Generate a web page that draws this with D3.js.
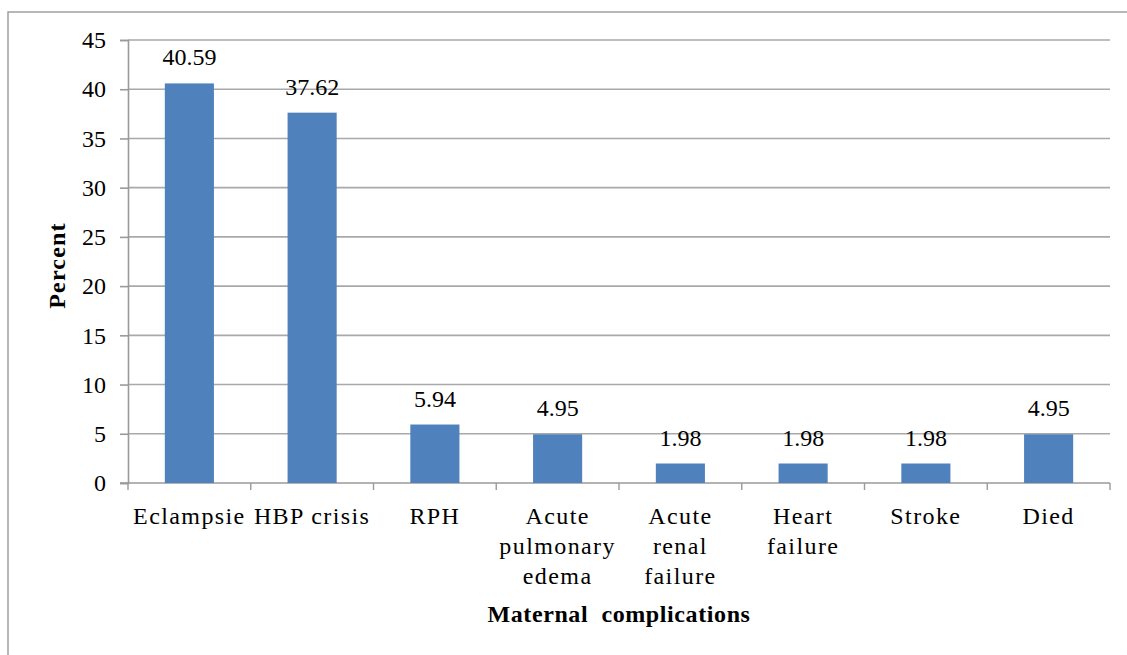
<!DOCTYPE html>
<html>
<head>
<meta charset="utf-8">
<script src="https://cdn.jsdelivr.net/npm/d3@7"></script>
<style>
  html, body { margin: 0; padding: 0; background: #fff; }
  svg { display: block; }
  text { font-family: "Liberation Serif", "Times New Roman", serif; fill: #000; }
</style>
</head>
<body>
<svg id="chart" width="1127" height="655"></svg>
<script>
// Maternal complications, percent of cases
const categories = ["Eclampsie", "HBP crisis", "RPH", "Acute\npulmonary\nedema", "Acute\nrenal\nfailure", "Heart\nfailure", "Stroke", "Died"];
const percents = [40.59, 37.62, 5.94, 4.95, 1.98, 1.98, 1.98, 4.95];
const labels = ["40.59", "37.62", "5.94", "4.95", "1.98", "1.98", "1.98", "4.95"];
const yTicks = [0, 5, 10, 15, 20, 25, 30, 35, 40, 45];

const svg = d3.select("#chart");
const W = 1127, H = 655;
const plot = { left: 128, right: 1110, top: 40, bottom: 483 };
const FS = 24;
const axisGrey = "#9a9a9a";

// outer frame (right and bottom edges run past the canvas)
svg.append("rect")
  .attr("x", 8).attr("y", 12)
  .attr("width", W + 20).attr("height", H + 20)
  .attr("fill", "none").attr("stroke", "#a0a0a0").attr("stroke-width", 1.5);

const xb = d3.scaleBand().domain(categories).range([plot.left, plot.right]);
const x = d3.scaleBand().domain(categories).range([plot.left, plot.right]).paddingInner(0.6).paddingOuter(0.3);
const y = d3.scaleLinear().domain([0, 45]).range([plot.bottom, plot.top]);

// horizontal gridlines
svg.append("g").selectAll("line").data(yTicks.filter(d => d > 0)).join("line")
  .attr("x1", plot.left).attr("x2", plot.right)
  .attr("y1", d => y(d)).attr("y2", d => y(d))
  .attr("stroke", "#a9a9a9").attr("stroke-width", 1.6);

// y axis
const yAxis = svg.append("g").attr("transform", `translate(${plot.left},0)`)
  .call(d3.axisLeft(y).tickValues(yTicks).tickSize(8).tickPadding(14).tickFormat(d3.format("d")));
yAxis.attr("font-family", null);
yAxis.select(".domain").attr("stroke", axisGrey).attr("stroke-width", 1.6);
yAxis.selectAll(".tick line").attr("stroke", axisGrey).attr("stroke-width", 1.6);
yAxis.selectAll(".tick text").attr("font-size", FS).attr("fill", "#000");

// x axis with ticks at category boundaries
const xAxisG = svg.append("g").attr("transform", `translate(0,${plot.bottom})`);
xAxisG.append("line").attr("x1", plot.left - 8).attr("x2", plot.right)
  .attr("y1", 0).attr("y2", 0).attr("stroke", axisGrey).attr("stroke-width", 1.6);
const bounds = categories.map(c => xb(c)).concat([xb(categories[categories.length - 1]) + xb.bandwidth()]);
xAxisG.selectAll("line.tk").data(bounds).join("line").attr("class", "tk")
  .attr("x1", d => d).attr("x2", d => d).attr("y1", 0).attr("y2", 7)
  .attr("stroke", axisGrey).attr("stroke-width", 1.4);

// category labels, one tspan per line
const catG = xAxisG.selectAll("text.cat").data(categories).join("text").attr("class", "cat")
  .attr("text-anchor", "middle")
  .attr("font-size", FS)
  .attr("letter-spacing", 1.4)
  .attr("transform", d => `translate(${xb(d) + xb.bandwidth() / 2},41)`);
catG.selectAll("tspan").data(d => d.split("\n")).join("tspan")
  .attr("x", 0).attr("dy", (d, i) => i === 0 ? 0 : 30).text(d => d);

// bars
svg.append("g").selectAll("rect").data(percents).join("rect")
  .attr("x", (d, i) => x(categories[i]))
  .attr("width", x.bandwidth())
  .attr("y", d => y(d))
  .attr("height", d => y(0) - y(d))
  .attr("fill", "#4f81bd");

// value labels
svg.append("g").selectAll("text").data(percents).join("text")
  .attr("x", (d, i) => xb(categories[i]) + xb.bandwidth() / 2)
  .attr("y", d => y(d) - 18)
  .attr("text-anchor", "middle")
  .attr("font-size", FS)
  .text((d, i) => labels[i]);

// axis titles
svg.append("text")
  .attr("transform", `translate(65,${(plot.top + plot.bottom) / 2 + 4}) rotate(-90)`)
  .attr("text-anchor", "middle").attr("font-size", FS).attr("font-weight", "bold")
  .attr("letter-spacing", 1.2)
  .text("Percent");
svg.append("text")
  .attr("x", (plot.left + plot.right) / 2).attr("y", 622)
  .attr("text-anchor", "middle").attr("font-size", FS).attr("font-weight", "bold")
  .attr("letter-spacing", 0.6)
  .attr("xml:space", "preserve")
  .text("Maternal  complications");
</script>
</body>
</html>
